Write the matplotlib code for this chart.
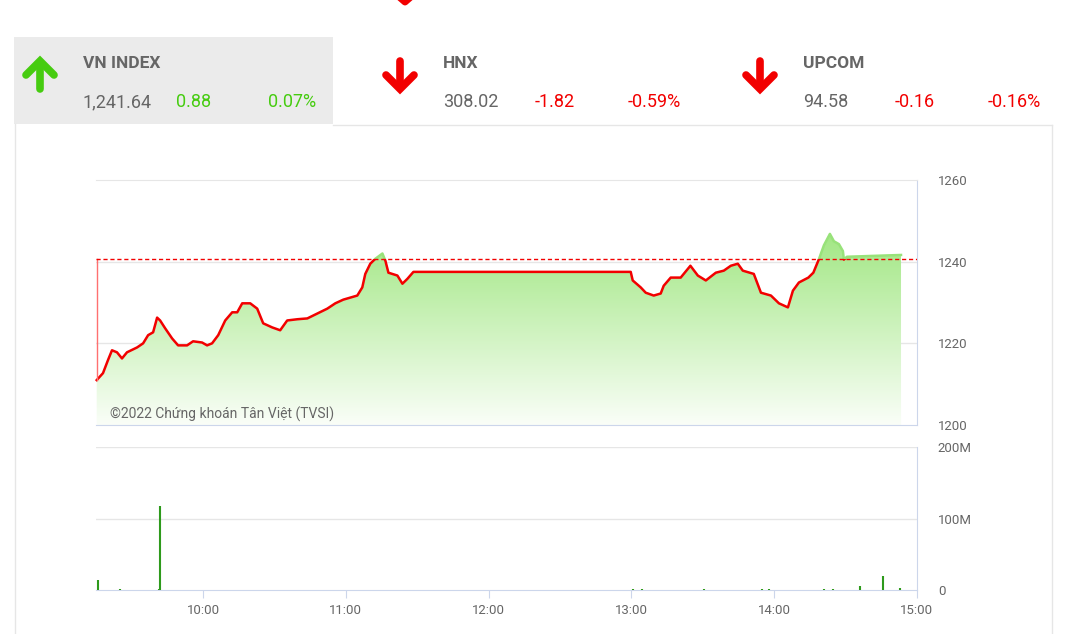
import numpy as np
import matplotlib.pyplot as plt
from matplotlib.colors import LinearSegmentedColormap
from matplotlib.patches import Rectangle, PathPatch
from matplotlib.path import Path

plt.rcParams['font.family'] = ['Roboto', 'DejaVu Sans']

W, H = 1080, 634

# header boxes
idx_names = ['VN INDEX', 'HNX', 'UPCOM']
idx_values = ['1,241.64', '308.02', '94.58']
idx_changes = ['0.88', '-1.82', '-0.16']
idx_pcts = ['0.07%', '-0.59%', '-0.16%']
idx_up = [True, False, False]

# VN-Index intraday (time in decimal hours)
times = [9.255, 9.299, 9.334, 9.362, 9.397, 9.432, 9.467, 9.538, 9.580, 9.615,
         9.650, 9.678, 9.699, 9.734, 9.783, 9.825, 9.888, 9.930, 9.993, 10.028,
         10.063, 10.106, 10.155, 10.204, 10.239, 10.274, 10.330, 10.379, 10.421, 10.484,
         10.540, 10.589, 10.660, 10.730, 10.800, 10.870, 10.926, 10.982, 11.080, 11.115,
         11.136, 11.171, 11.206, 11.256, 11.277, 11.298, 11.361, 11.396, 11.431, 11.473,
         12.995, 13.009, 13.065, 13.100, 13.156, 13.205, 13.226, 13.275, 13.345, 13.413,
         13.465, 13.521, 13.591, 13.647, 13.696, 13.745, 13.780, 13.857, 13.907, 13.977,
         14.033, 14.096, 14.131, 14.173, 14.239, 14.274, 14.314, 14.348, 14.390, 14.418,
         14.453, 14.481, 14.488, 14.509, 14.678, 14.888]
prices = [1211.0, 1212.7, 1215.9, 1218.3, 1217.8, 1216.3, 1217.8, 1219.0, 1220.0, 1222.0,
          1222.7, 1226.3, 1225.6, 1223.7, 1221.2, 1219.5, 1219.5, 1220.5, 1220.2, 1219.5,
          1220.0, 1222.0, 1225.6, 1227.6, 1227.6, 1229.8, 1229.8, 1228.5, 1224.9, 1223.9,
          1223.2, 1225.6, 1225.9, 1226.1, 1227.3, 1228.5, 1229.8, 1230.7, 1231.7, 1233.7,
          1237.0, 1239.5, 1240.7, 1242.0, 1240.2, 1237.3, 1236.6, 1234.6, 1235.8, 1237.5,
          1237.5, 1235.4, 1233.7, 1232.4, 1231.7, 1232.2, 1234.1, 1236.1, 1236.1, 1239.0,
          1236.6, 1235.4, 1237.3, 1237.8, 1239.0, 1239.5, 1237.8, 1237.0, 1232.4, 1231.7,
          1229.8, 1228.8, 1232.9, 1234.9, 1236.1, 1237.3, 1240.7, 1244.0, 1246.8, 1245.0,
          1244.3, 1242.6, 1240.5, 1241.2, 1241.4, 1241.64]
ref_price = 1240.76

# volume (millions)
vol_times = [9.264, 9.418, 9.692, 9.699, 13.010, 13.077, 13.509, 13.913, 13.965,
             14.346, 14.409, 14.601, 14.762, 14.883]
vol_values = [14, 1, 2, 117.5, 1, 1, 1, 1.5, 2, 1.5, 1.5, 5, 19, 3]

hour_ticks = [10, 11, 12, 13, 14, 15]
hour_labels = ['10:00', '11:00', '12:00', '13:00', '14:00', '15:00']

green = '#46cc10'
red = '#f20000'
grey_txt = '#666666'
grid_c = '#e6e6e6'
axis_c = '#ccd6eb'

fig = plt.figure(figsize=(W / 100, H / 100), dpi=100)
fig.patch.set_facecolor('white')

# background layer in pixel coordinates
bg = fig.add_axes([0, 0, 1, 1])
bg.set_xlim(0, W)
bg.set_ylim(H, 0)
bg.axis('off')
bg.add_patch(Rectangle((14, 37), 319, 87, facecolor='#ebebeb', edgecolor='none'))
bg.plot([333, 1052], [125, 125], color=grid_c, lw=1)
bg.plot([15, 15], [124, H], color=grid_c, lw=1)
bg.plot([1052, 1052], [125, H], color=grid_c, lw=1)
# cut-off arrow at top
bg.plot([397, 405, 413], [-5, 2, -5], color=red, lw=5, solid_joinstyle='round')

name_x = [83, 443, 803]
chg_x = [176, 535, 895]
pct_x = [316, 681, 1041]
arrow_x = [40, 400, 760]
for i in range(3):
    x0 = arrow_x[i]
    if idx_up[i]:
        bg.plot([x0, x0], [89, 62], color=green, lw=5.5, solid_capstyle='round')
        bg.plot([x0 - 14, x0, x0 + 14], [75, 61, 75], color=green, lw=5.5,
                solid_capstyle='round', solid_joinstyle='miter')
        col = green
    else:
        bg.plot([x0, x0], [61, 88], color=red, lw=5.5, solid_capstyle='round')
        bg.plot([x0 - 14, x0, x0 + 14], [75, 89, 75], color=red, lw=5.5,
                solid_capstyle='round', solid_joinstyle='miter')
        col = red
    bg.text(name_x[i], 64, idx_names[i], fontsize=12.5, fontweight='bold', color=grey_txt,
            va='center', ha='left')
    bg.text(name_x[i], 102, idx_values[i], fontsize=13, color=grey_txt, va='center', ha='left')
    bg.text(chg_x[i], 102, idx_changes[i], fontsize=13, color=col, va='center', ha='left')
    bg.text(pct_x[i], 102, idx_pcts[i], fontsize=13, color=col, va='center', ha='right')


def add_ax(l, t, r, b):
    return fig.add_axes([l / W, 1 - b / H, (r - l) / W, (b - t) / H])


# price panel
ax = add_ax(96, 180, 917, 425)
ax.set_facecolor('none')
ax.set_xlim(9.25, 15)
ax.set_ylim(1200, 1260)

verts = [(times[0], 1200)] + list(zip(times, prices)) + [(times[-1], 1200), (times[0], 1200)]
area = PathPatch(Path(verts), transform=ax.transData, facecolor='none', edgecolor='none')
ax.add_patch(area)
cmap = LinearSegmentedColormap.from_list('g', ['#fafef8', '#a2e784'])
grad = np.linspace(1, 0, 256).reshape(-1, 1)
im = ax.imshow(grad, extent=[9.25, 15, 1200, 1247], cmap=cmap, aspect='auto', zorder=1)
im.set_clip_path(area)

for y in [1220, 1240]:
    ax.axhline(y, color=grid_c, lw=1, zorder=0.5)

below = Rectangle((9, 1100), 7, ref_price - 1100, transform=ax.transData)
above = Rectangle((9, ref_price), 7, 100, transform=ax.transData)
ln_r, = ax.plot(times, prices, color=red, lw=1.8, zorder=3)
ln_r.set_clip_path(below)
ln_g, = ax.plot(times, prices, color='#98e27a', lw=1.8, zorder=3)
ln_g.set_clip_path(above)
ax.plot([times[0], times[0]], [prices[0], ref_price], color='#ff7070', lw=1, zorder=3)
ax.axhline(ref_price, color=red, lw=1, ls=(0, (3, 2)), zorder=4)

ax.text(9.348, 1202.7, '©2022 Chứng khoán Tân Việt (TVSI)', fontsize=10, color=grey_txt,
        va='center', ha='left', zorder=5)

ax.spines['left'].set_visible(False)
ax.spines['top'].set_color(grid_c)
ax.spines['right'].set_color(axis_c)
ax.spines['bottom'].set_color(axis_c)
ax.set_xticks([])
ax.yaxis.tick_right()
ax.set_yticks([1200, 1220, 1240, 1260])
ax.tick_params(axis='y', length=0, pad=15, labelsize=9.5, labelcolor=grey_txt)

# volume panel
vax = add_ax(96, 447, 917, 590)
vax.set_facecolor('none')
vax.set_xlim(9.25, 15)
vax.set_ylim(0, 200)
for y in [100, 200]:
    vax.axhline(y, color=grid_c, lw=1, zorder=0.5)
vax.vlines(vol_times, 0, vol_values, color='#2e9a1c', lw=1.5, zorder=3)
vax.spines['left'].set_visible(False)
vax.spines['top'].set_visible(False)
vax.spines['right'].set_color(axis_c)
vax.spines['bottom'].set_color(axis_c)
vax.yaxis.tick_right()
vax.set_yticks([0, 100, 200])
vax.set_yticklabels(['0', '100M', '200M'])
vax.tick_params(axis='y', length=0, pad=15, labelsize=9.5, labelcolor=grey_txt)
vax.set_xticks(hour_ticks)
vax.set_xticklabels(hour_labels)
vax.tick_params(axis='x', length=6, color=axis_c, pad=4, labelsize=9.5, labelcolor=grey_txt)

fig.savefig('out.png', dpi=100)
